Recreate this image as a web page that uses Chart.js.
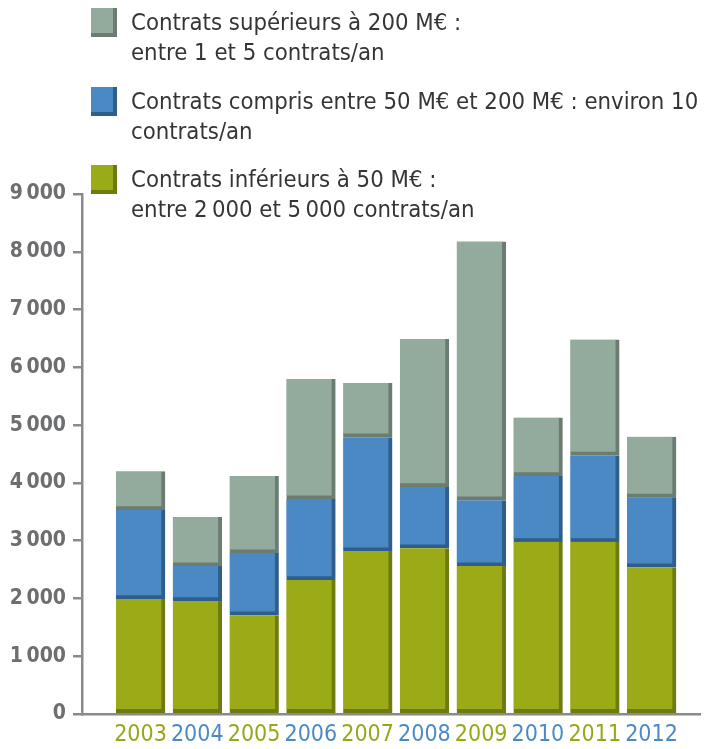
<!DOCTYPE html>
<html>
<head>
<meta charset="utf-8">
<script src="https://cdn.jsdelivr.net/npm/chart.js@4/dist/chart.umd.min.js"></script>
<style>
  html, body { margin: 0; padding: 0; background: #fff; }
  #wrap { position: relative; width: 712px; height: 749px; }
  #legend { position: absolute; left: 0; top: 0; }
  .item { position: absolute; left: 91px; }
  .swatch { position: absolute; left: 0; top: 0; width: 22px; height: 25px; border-right: 4px solid; border-bottom: 4px solid; }
  .text { position: absolute; left: 40px; top: -1px; width: 600px; font-family: "DejaVu Sans Condensed", "DejaVu Sans", sans-serif; font-size: 23.7px; line-height: 30px; color: #353535; white-space: nowrap; }
</style>
</head>
<body>
<div id="wrap">
  <canvas id="chart" width="712" height="749"></canvas>
  <div id="legend"></div>
</div>
<script>
const years = ['2003', '2004', '2005', '2006', '2007', '2008', '2009', '2010', '2011', '2012'];
const small = [1990, 1955, 1710, 2320, 2820, 2870, 2560, 2980, 2980, 2540];
const medium = [1540, 605, 1075, 1400, 1970, 1060, 1140, 1140, 1495, 1210];
const large = [670, 850, 1335, 2080, 940, 2560, 4480, 1010, 2005, 1050];
const yTicks = [0, 1000, 2000, 3000, 4000, 5000, 6000, 7000, 8000, 9000];

const labelSmall = ['Contrats inférieurs à 50 M€ :', 'entre 2\u2009000 et 5\u2009000 contrats/an'];
const labelMedium = ['Contrats compris entre 50 M€ et 200 M€ : environ 10', 'contrats/an'];
const labelLarge = ['Contrats supérieurs à 200 M€ :', 'entre 1 et 5 contrats/an'];

const green = '#9bab17', greenDark = '#6f7b10';
const blue = '#4b89c4', blueDark = '#2f5e8c';
const grey = '#93ab9c', greyDark = '#6b7d71';

function points(values) {
  return values.map((v, i) => ({ x: i, y: v }));
}

function fmt(v) {
  if (v < 1000) return String(v);
  const s = String(v);
  return s.slice(0, s.length - 3) + '\u2009' + s.slice(-3);
}

const barStyle = {
  barThickness: 49,
  borderSkipped: false,
  borderWidth: { top: 0, left: 0, right: 4, bottom: 4 },
};

new Chart(document.getElementById('chart').getContext('2d'), {
  type: 'bar',
  data: {
    datasets: [
      { label: labelSmall.join(' '), data: points(small), backgroundColor: green, borderColor: greenDark, ...barStyle },
      { label: labelMedium.join(' '), data: points(medium), backgroundColor: blue, borderColor: blueDark, ...barStyle },
      { label: labelLarge.join(' '), data: points(large), backgroundColor: grey, borderColor: greyDark, ...barStyle },
    ],
  },
  options: {
    responsive: false,
    animation: false,
    layout: { padding: { top: 194, right: 12, left: 0, bottom: 0 } },
    plugins: { legend: { display: false }, tooltip: { enabled: false } },
    scales: {
      x: {
        type: 'linear',
        stacked: true,
        offset: false,
        min: -1.03,
        max: 9.854,
        afterBuildTicks: scale => { scale.ticks = years.map((_, i) => ({ value: i })); },
        afterFit: scale => { scale.height = 35; },
        grid: { display: false, drawTicks: false },
        border: { display: true, color: '#8a8a8a', width: 2.5 },
        ticks: {
          padding: 7,
          autoSkip: false,
          maxRotation: 0,
          callback: v => years[v],
          color: ctx => (ctx.index % 2 ? '#4a8ac6' : '#98a71a'),
          font: { family: '"DejaVu Sans Condensed", "DejaVu Sans", sans-serif', size: 23 },
        },
      },
      y: {
        stacked: true,
        min: 0,
        max: 9000,
        afterBuildTicks: scale => { scale.ticks = yTicks.map(v => ({ value: v })); },
        afterFit: scale => { scale.width = 82; },
        grid: { drawOnChartArea: false, drawTicks: true, tickLength: 9, color: '#8a8a8a', lineWidth: 2.5 },
        border: { display: true, color: '#8a8a8a', width: 2.5 },
        ticks: {
          padding: 7,
          callback: v => fmt(v),
          color: '#6d6e70',
          font: { family: '"DejaVu Sans Condensed", "DejaVu Sans", sans-serif', size: 21, weight: 'bold' },
        },
      },
    },
  },
});

// legend built from the same labels, top to bottom
const legendItems = [
  { lines: labelLarge, color: grey, dark: greyDark, top: 8 },
  { lines: labelMedium, color: blue, dark: blueDark, top: 87 },
  { lines: labelSmall, color: green, dark: greenDark, top: 165 },
];
const legend = document.getElementById('legend');
legendItems.forEach(it => {
  const div = document.createElement('div');
  div.className = 'item';
  div.style.top = it.top + 'px';
  const sw = document.createElement('div');
  sw.className = 'swatch';
  sw.style.background = it.color;
  sw.style.borderColor = it.dark;
  const tx = document.createElement('div');
  tx.className = 'text';
  tx.innerHTML = it.lines.join('<br>');
  div.appendChild(sw);
  div.appendChild(tx);
  legend.appendChild(div);
});
</script>
</body>
</html>
